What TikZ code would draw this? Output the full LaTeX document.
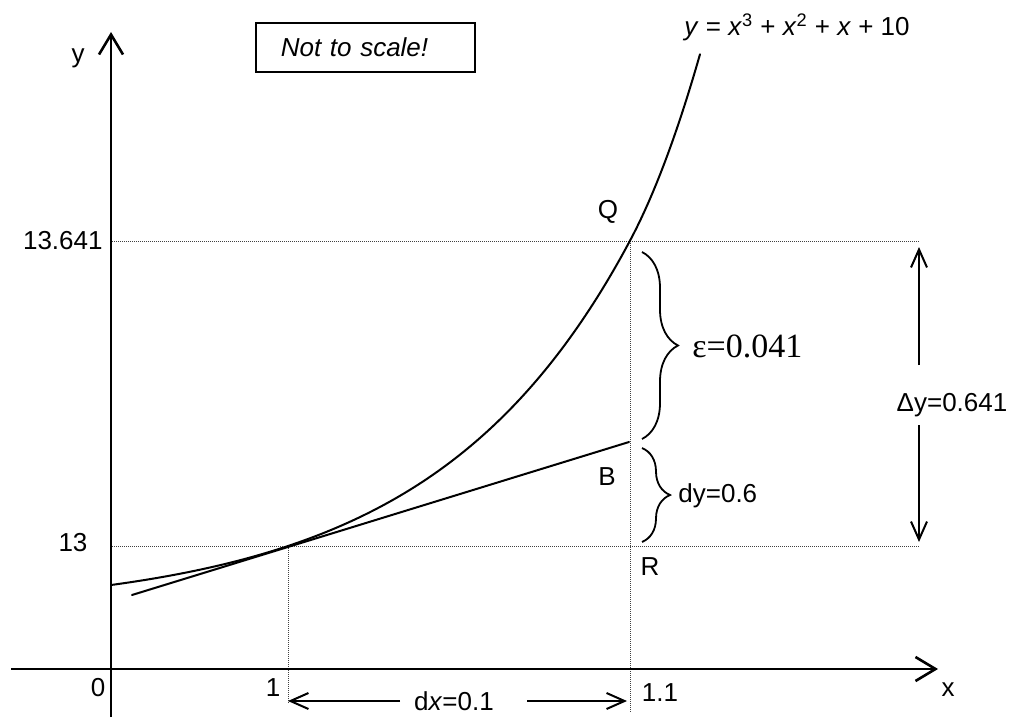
\documentclass[tikz,border=0pt]{standalone}
\usepackage{fontspec}
\setmainfont{Liberation Sans}
\newfontfamily\serifa{Liberation Serif}
\usetikzlibrary{arrows.meta,decorations.pathreplacing}
\tikzset{
  eje/.style={
    line width=1.3pt,
    -{Straight Barb[length=10pt,width=12pt]}
  },
  guia/.style={
    line width=0.5pt,
    dash pattern=on 0.5pt off 0.5pt,
    black!75
  },
  curva/.style={
    line width=1pt,
    line cap=round
  },
  arrow/.style={
    line width=1pt,
    -{Straight Barb[length=9pt,width=8pt]}
  },
  llave/.style={
    line width=0.9pt,
    decorate,
    decoration={brace,amplitude=#1}
  },
  caja/.style={
    draw,
    line width=0.8pt,
    text width=84.5pt,
    align=left,
    inner xsep=12.5pt,
    minimum height=24.5pt,
    font=\fontsize{13}{15}\selectfont\itshape
  },
  etiqueta/.style={
    inner sep=0pt
  }
}

\begin{document}
\begin{tikzpicture}[x=0.5pt, y=-0.5pt, font=\fontsize{13}{15}\selectfont]
\useasboundingbox (0,0) rectangle (1011,717);
% ejes
\coordinate (xa) at (11,669);
\coordinate (xb) at (938,669);
\coordinate (ya) at (111,717);
\coordinate (yb) at (111,32);
% puntos de la curva
\coordinate (P) at (288,546);
\coordinate (Q) at (630,241);
\coordinate (R) at (630,546);
\coordinate (B) at (629,442);
\coordinate (tanA) at (132,595);
\coordinate (ejeQ) at (112,241);
\coordinate (finQ) at (920,241);
\coordinate (ejeP) at (112,546);
\coordinate (finP) at (920,546);
\coordinate (pieP) at (288,703);
\coordinate (pieQ) at (630,712);
% flechas de incrementos
\coordinate (dyA) at (919,247);
\coordinate (dyC) at (919,365);
\coordinate (dyD) at (919,425);
\coordinate (dyB) at (919,542);
\coordinate (dxA) at (288,701);
\coordinate (dxB) at (400,701);
\coordinate (dxC) at (527,701);
\coordinate (dxD) at (627,701);
% llaves
\coordinate (llA) at (642,252);
\coordinate (llB) at (642,439);
\coordinate (llC) at (642,448);
\coordinate (llD) at (642,542);

\draw[guia] (ejeQ) -- (finQ);
\draw[guia] (ejeP) -- (finP);
\draw[guia] (P) -- (pieP);
\draw[guia] (Q) -- (pieQ);

\draw[eje] (xa) -- (xb);
\draw[eje] (ya) -- (yb);

\draw[curva] plot[domain=111:700, samples=150]
  (\x, {585-27*(exp(0.00505*(\x-111))-1)-0.0059*(max(0,\x-630))^2});
\draw[curva] (tanA) -- (B);

\draw[llave=18pt] (llA) -- (llB);
\draw[llave=14pt] (llC) -- (llD);

\draw[arrow] (dyC) -- (dyA);
\draw[arrow] (dyD) -- (dyB);
\draw[arrow] (dxB) -- (dxA);
\draw[arrow] (dxC) -- (dxD);

\node[etiqueta] (ly) at (78,58) {y};
\node[etiqueta] (lx) at (948,690) {x};
\node[etiqueta] (l0) at (98,688) {0};
\node[etiqueta] (l1) at (273,688) {1};
\node[etiqueta] (l11) at (660,693) {1.1};
\node[etiqueta, anchor=east] (lq13) at (103,241) {13.641};
\node[etiqueta] (l13) at (73,543) {13};
\node[etiqueta] (lQ) at (608,212) {Q};
\node[etiqueta] (lB) at (607,477) {B};
\node[etiqueta] (lR) at (650,567) {R};
\node[caja, anchor=west] (aviso) at (255,47.5) {Not to scale!};
\node[etiqueta] (formula) at (797,27)
  {\textit{y} = \textit{x}\textsuperscript{3} + \textit{x}\textsuperscript{2} + \textit{x} + 10};
\node[etiqueta, anchor=west, font=\fontsize{17}{19}\selectfont\serifa] (eps) at (692,346) {ε=0.041};
\node[etiqueta, anchor=west] (ldy) at (678,496) {dy=0.6};
\node[etiqueta] (Dy) at (952,405) {Δy=0.641};
\node[etiqueta] (dx) at (454,701) {d\textit{x}=0.1};
\end{tikzpicture}
\end{document}
